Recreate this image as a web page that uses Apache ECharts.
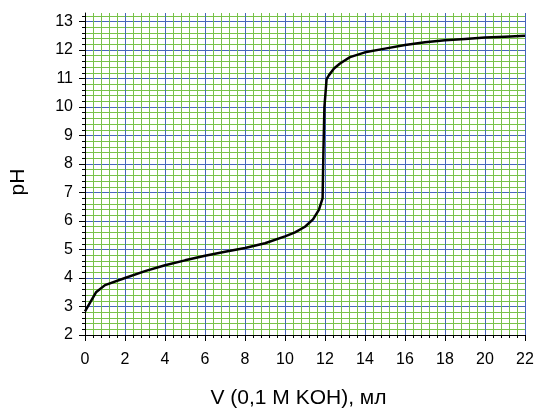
<!DOCTYPE html>
<html>
<head>
<meta charset="utf-8">
<script src="https://cdn.jsdelivr.net/npm/echarts@6/dist/echarts.min.js"></script>
<style>
  html, body { margin: 0; padding: 0; background: #fff; }
  #chart { width: 536px; height: 408px; }
</style>
</head>
<body>
<div id="chart"></div>
<script>
// titration curve: volume of 0.1 M KOH (ml) vs pH
const VOLUME = [0, 0.55, 1, 2, 3, 4, 5, 6, 7, 8, 9, 10, 10.5, 11, 11.4, 11.7, 11.88, 11.92, 11.97, 12.08, 12.2, 12.45, 12.75, 13.25, 14, 15, 16, 17, 18, 19, 20, 21, 22]
const PH = [2.83, 3.5, 3.75, 4.0, 4.24, 4.45, 4.62, 4.78, 4.92, 5.05, 5.22, 5.46, 5.6, 5.8, 6.06, 6.4, 6.8, 8.4, 10.0, 10.98, 11.12, 11.35, 11.53, 11.75, 11.92, 12.05, 12.18, 12.27, 12.34, 12.39, 12.44, 12.47, 12.5]

const X_TICKS = [0, 2, 4, 6, 8, 10, 12, 14, 16, 18, 20, 22]
const Y_TICKS = [2, 3, 4, 5, 6, 7, 8, 9, 10, 11, 12, 13]

const MAJOR = "#4766bb"
const MINOR = "#78c24a"

const chart = echarts.init(document.getElementById("chart"), null, { renderer: "canvas" })

const axisBase = {
  type: "value",
  nameLocation: "middle",
  nameTextStyle: { fontFamily: "Liberation Sans", fontSize: 21, color: "#000" },
  axisLine: { show: true, lineStyle: { color: "#000", width: 1 } },
  axisTick: { show: true, inside: false, length: 6, lineStyle: { color: "#000" } },
  minorTick: { show: true, splitNumber: 5, length: 3, lineStyle: { color: "#000" } },
  axisLabel: { fontFamily: "Liberation Sans", fontSize: 16, color: "#000", margin: 12 },
  splitLine: { show: true, lineStyle: { color: MAJOR, width: 1 } },
  minorSplitLine: { show: true, lineStyle: { color: MINOR, width: 1 } }
}

chart.setOption({
  animation: false,
  grid: { left: 85, right: 11, top: 13, bottom: 73, containLabel: false, outerBoundsMode: "none" },
  xAxis: Object.assign({}, axisBase, {
    min: 0,
    max: 22,
    interval: 2,
    name: "V (0,1 M KOH), мл",
    nameGap: 53,
    nameTextStyle: Object.assign({}, axisBase.nameTextStyle, { padding: [0, 13, 0, 0] }),
    axisTick: Object.assign({}, axisBase.axisTick, { customValues: X_TICKS }),
    axisLabel: Object.assign({}, axisBase.axisLabel, { margin: 17, customValues: X_TICKS })
  }),
  yAxis: Object.assign({}, axisBase, {
    min: 2,
    max: 13.3,
    interval: 1,
    name: "pH",
    nameGap: 56,
    nameTextStyle: Object.assign({}, axisBase.nameTextStyle, { padding: [0, 16, 0, 0] }),
    axisTick: Object.assign({}, axisBase.axisTick, { customValues: Y_TICKS }),
    axisLabel: Object.assign({}, axisBase.axisLabel, { customValues: Y_TICKS })
  }),
  series: [{
    type: "line",
    data: VOLUME.map((v, i) => [v, PH[i]]),
    symbol: "none",
    smooth: false,
    lineStyle: { color: "#000", width: 2.5 },
    z: 10
  }]
})
</script>
</body>
</html>
